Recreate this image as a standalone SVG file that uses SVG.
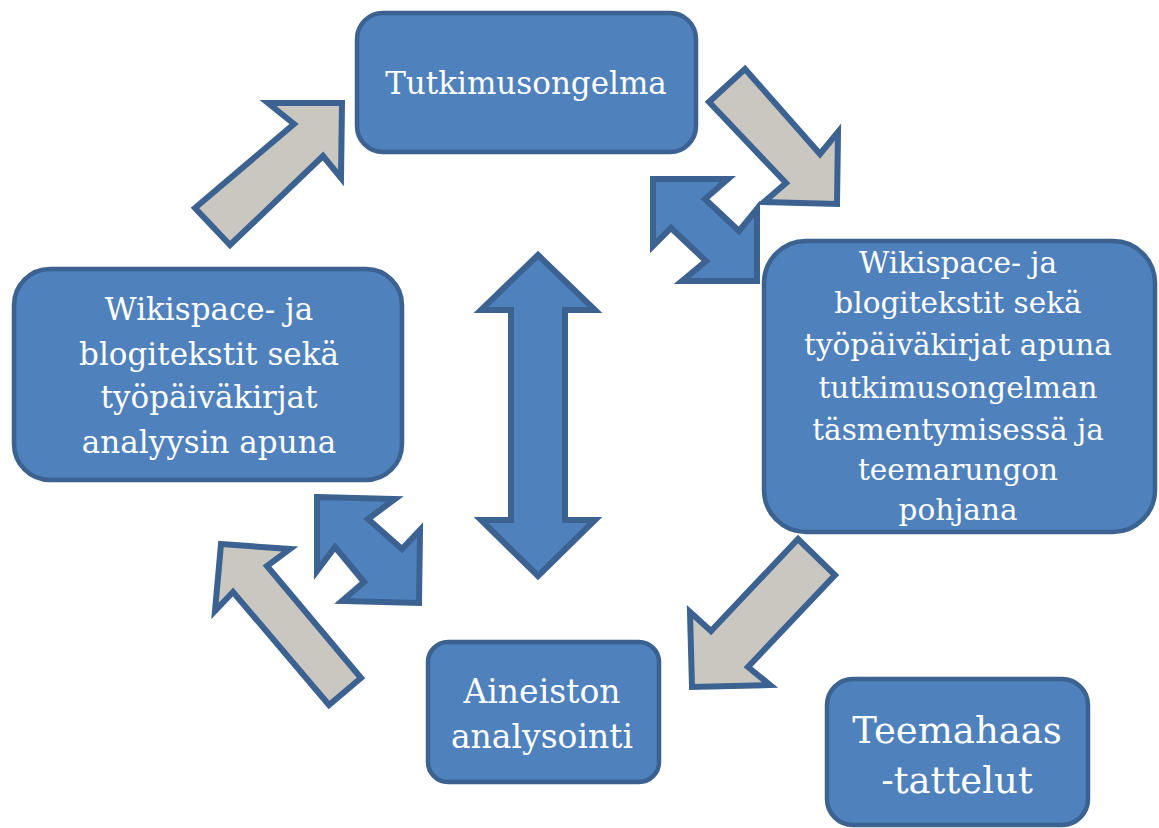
<svg xmlns="http://www.w3.org/2000/svg" width="1159" height="828" viewBox="0 0 1159 828">
<defs>
<style>
.box{fill:#4f81bd;stroke:#3b6291;stroke-width:4.5}
.gray{fill:#c9c7bf;stroke:#3b6291;stroke-width:6;stroke-linejoin:miter}
.blue{fill:#4f81bd;stroke:#3b6291;stroke-width:6;stroke-linejoin:miter}
text{font-family:"DejaVu Serif","Liberation Serif",serif;fill:#ffffff;text-anchor:middle}
</style>
</defs>
<rect width="1159" height="828" fill="#ffffff"/>
<g id="connectors">
<polygon id="arrow-up-right" class="gray" points="195,208 294,124 268,103 342,103 341,178 323,156 230,245"/>
<polygon id="arrow-down-right" class="gray" points="745,69 820,154 838,132 837,204 764,202 786,183 709,102"/>
<polygon id="arrow-dbl-topright" class="blue" points="653,179 728,179 705,199 739,231 757,209 757,281 682,281 706,261 671,228 653,246"/>
<polygon id="arrow-dbl-left" class="blue" points="317,497 395,499 368,519 402,549 420,530 419,603 342,601 364,582 335,547 317,571"/>
<polygon id="arrow-vertical" class="blue" points="538,255 595,310 565,310 565,520 595,520 538,576 481,520 511,520 511,310 481,310"/>
<polygon id="arrow-up-left" class="gray" points="221,544 290,549 267,566 361,678 329,705 233,592 215,611"/>
<polygon id="arrow-down-left" class="gray" points="798,539 835,575 748,667 770,685 692,687 690,612 711,631"/>
</g>
<g id="node-tutkimusongelma">
<rect class="box" x="357" y="13" width="339" height="139" rx="26"/>
<text x="526" y="94" font-size="31">Tutkimusongelma</text>
</g>
<g id="node-left">
<rect class="box" x="14" y="269" width="388" height="211" rx="36"/>
<text font-size="31"><tspan x="209" y="320">Wikispace- ja</tspan><tspan x="209" y="365">blogitekstit sekä</tspan><tspan x="209" y="408">työpäiväkirjat</tspan><tspan x="209" y="453">analyysin apuna</tspan></text>
</g>
<g id="node-right">
<rect class="box" x="764" y="241" width="391" height="291" rx="42"/>
<text font-size="29.5"><tspan x="958" y="273">Wikispace- ja</tspan><tspan x="958" y="313">blogitekstit sekä</tspan><tspan x="958" y="355">työpäiväkirjat apuna</tspan><tspan x="958" y="398">tutkimusongelman</tspan><tspan x="958" y="440">täsmentymisessä ja</tspan><tspan x="958" y="480">teemarungon</tspan><tspan x="958" y="520">pohjana</tspan></text>
</g>
<g id="node-aineiston">
<rect class="box" x="428" y="642" width="231" height="140" rx="20"/>
<text font-size="33"><tspan x="542" y="703">Aineiston</tspan><tspan x="542" y="748">analysointi</tspan></text>
</g>
<g id="node-teemahaastattelut">
<rect class="box" x="827" y="679" width="261" height="146" rx="26"/>
<text font-size="37"><tspan x="957" y="743">Teemahaas</tspan><tspan x="957" y="793">-tattelut</tspan></text>
</g>
</svg>
